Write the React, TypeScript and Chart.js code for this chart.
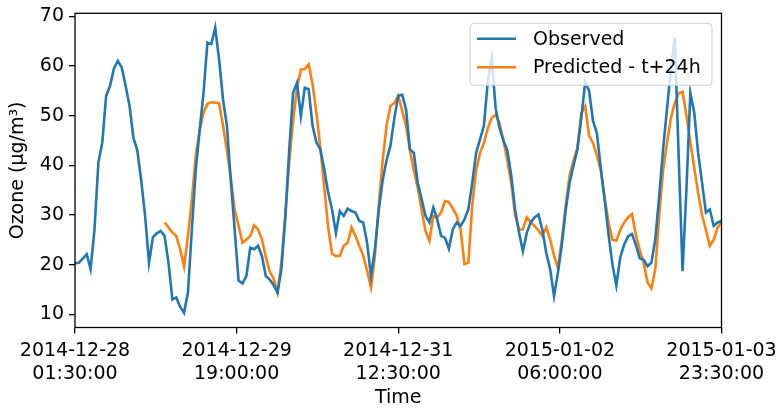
import React, { useEffect, useRef } from "react";
import { Chart, registerables } from "chart.js";

Chart.register(...registerables);

// ---- data ----
const START_UTC = Date.UTC(2014, 11, 28, 1, 30); // first sample: 2014-12-28 01:30
const xTickHours = [0, 41.5, 83, 124.5, 166];
const yTickValues = [10, 20, 30, 40, 50, 60, 70];

const observed = [
  20.3, 20.4, 21.2, 22.1, 19.1, 27, 40.5, 44.6, 54, 56,
  59.5, 61, 59.7, 56, 52, 45.5, 43, 37, 29.8, 20.4,
  25.5, 26.3, 26.8, 25.8, 20.4, 13, 13.4, 11.5, 10.3, 14.4,
  27, 39, 47, 54.6, 64.7, 64.4, 67.7, 61.3, 53.3, 48,
  37, 27, 16.8, 16.2, 17.7, 23.4, 23.1, 23.8, 21.7, 17.7,
  17, 15.9, 14.4, 19.1, 29.5, 43, 54.6, 56.6, 49.9, 55.6,
  55.3, 47.9, 44.6, 43.2, 39.2, 34.5, 31.1, 26.4, 30.8, 29.8,
  31.3, 30.8, 30.5, 28.8, 28.5, 24.4, 17.7, 23.1, 31, 37,
  41, 44, 49.5, 54, 54.2, 51.3, 43.2, 42.5, 36.5, 33.2,
  29.8, 28.5, 31.5, 29.1, 25.8, 25.4, 23.2, 27.1, 28.5, 27.8,
  29.1, 31.1, 36.5, 42.5, 45.2, 48, 57, 61.7, 51.5, 47.5,
  45, 43, 38, 31.1, 26.5, 22.7, 26.4, 28.5, 29.5, 30.1,
  27, 22.4, 19.1, 13.7, 18.4, 24, 31, 36.5, 39.9, 43.2,
  49.5, 56.8, 55, 49, 46.5, 39.5, 33, 26, 20, 15.8,
  21.5, 24, 25.7, 26.2, 24, 21.3, 21, 19.7, 20.4, 25.1,
  33.8, 43.2, 51.3, 59.3, 65.7, 42, 18.7, 35.2, 54.6, 50.6,
  42.5, 36.5, 30.5, 31.1, 27.8, 28.5, 28.8,
];

const predictedStartHour = 23;
const predicted = [
  28.5, 27.5, 26.5, 25.8, 23.1, 19.6, 25.8, 33, 42, 47,
  50.6, 52.4, 52.7, 52.6, 52.5, 48, 43, 37.5, 31, 27.8,
  24.4, 25, 25.8, 27.9, 27.1, 25.1, 21.5, 18.6, 17.2, 14.4,
  20.4, 30, 40.5, 49, 55.5, 59.3, 59.4, 60.3, 56.3, 50.5,
  43.5, 35.5, 27.5, 22.2, 21.7, 21.8, 23.8, 24.4, 27.5, 25.8,
  23.8, 21.8, 18.8, 15.4, 21.7, 32, 41, 48, 52, 52.5,
  54, 51, 48, 43, 39, 35.5, 31, 26.8, 24.8, 29.8,
  29.5, 30.5, 32.8, 32.6, 31.3, 29.9, 27.1, 20.1, 20.4, 32,
  39, 42.5, 44.5, 47.5, 49.5, 50.2, 48.5, 45, 41, 36.5,
  30, 27, 27.1, 29.5, 28.5, 27.8, 26.9, 25.8, 27.5, 25.1,
  21.8, 19.3, 25, 32, 38, 41, 43.5, 50.5, 51.9, 46,
  44.5, 42, 39, 33.5, 28.5, 25, 24.8, 27, 28.5, 29.5,
  30.2, 26, 23, 20.4, 16.4, 15.2, 19.1, 29.8, 39, 44.5,
  49.5, 52.5, 54.5, 54.8, 50, 44.6, 39.5, 34.5, 30, 27,
  23.8, 25, 27.5, 28.5,
];

const seriesLabels = ["Observed", "Predicted - t+24h"];
const seriesColors = ["#1f77b4", "#ff7f0e"];

const FONT = "'DejaVu Sans', sans-serif";

function hourLabel(h: number): string[] {
  const d = new Date(START_UTC + h * 3600000);
  const p = (n: number) => String(n).padStart(2, "0");
  return [
    `${d.getUTCFullYear()}-${p(d.getUTCMonth() + 1)}-${p(d.getUTCDate())}`,
    `${p(d.getUTCHours())}:${p(d.getUTCMinutes())}:00`,
  ];
}

const framePlugin = {
  id: "mplFrame",
  afterDatasetsDraw(chart: any) {
    const { ctx, chartArea } = chart;
    ctx.save();
    ctx.strokeStyle = "#000";
    ctx.lineWidth = 1.3;
    ctx.strokeRect(chartArea.left, chartArea.top, chartArea.right - chartArea.left, chartArea.bottom - chartArea.top);
    ctx.restore();
  },
};

const legendPlugin = {
  id: "mplLegend",
  afterDraw(chart: any) {
    const { ctx, chartArea } = chart;
    const w = 242;
    const h = 62;
    const x = chartArea.right - w - 9.5;
    const y = chartArea.top + 10;
    const r = 4;
    ctx.save();
    ctx.beginPath();
    ctx.moveTo(x + r, y);
    ctx.lineTo(x + w - r, y);
    ctx.arcTo(x + w, y, x + w, y + r, r);
    ctx.lineTo(x + w, y + h - r);
    ctx.arcTo(x + w, y + h, x + w - r, y + h, r);
    ctx.lineTo(x + r, y + h);
    ctx.arcTo(x, y + h, x, y + h - r, r);
    ctx.lineTo(x, y + r);
    ctx.arcTo(x, y, x + r, y, r);
    ctx.closePath();
    ctx.fillStyle = "rgba(255,255,255,0.8)";
    ctx.fill();
    ctx.strokeStyle = "#cccccc";
    ctx.lineWidth = 1;
    ctx.stroke();

    ctx.font = `19px ${FONT}`;
    ctx.textBaseline = "middle";
    ctx.textAlign = "left";
    chart.data.datasets.forEach((ds: any, i: number) => {
      const cy = y + 15.5 + i * 28.5;
      ctx.beginPath();
      ctx.strokeStyle = ds.borderColor;
      ctx.lineWidth = 2.6;
      ctx.moveTo(x + 7, cy);
      ctx.lineTo(x + 46, cy);
      ctx.stroke();
      ctx.fillStyle = "#000";
      ctx.fillText(ds.label, x + 63, cy + 1);
    });
    ctx.restore();
  },
};

export default function App() {
  const canvasRef = useRef<HTMLCanvasElement | null>(null);

  useEffect(() => {
    if (!canvasRef.current) return;
    const obsData = observed.map((v, i) => ({ x: i, y: v }));
    const predData = predicted.map((v, i) => ({ x: i + predictedStartHour, y: v }));

    const chart = new Chart(canvasRef.current, {
      type: "line",
      data: {
        datasets: [
          {
            label: seriesLabels[0],
            data: obsData,
            borderColor: seriesColors[0],
            backgroundColor: seriesColors[0],
            borderWidth: 2.6,
            pointRadius: 0,
            tension: 0,
          },
          {
            label: seriesLabels[1],
            data: predData,
            borderColor: seriesColors[1],
            backgroundColor: seriesColors[1],
            borderWidth: 2.6,
            pointRadius: 0,
            tension: 0,
          },
        ],
      },
      options: {
        animation: false,
        responsive: false,
        devicePixelRatio: 1,
        layout: { padding: { left: 6.5, right: 57.5, top: 13.3, bottom: 0 } },
        plugins: {
          legend: { display: false },
          tooltip: { enabled: false },
        },
        scales: {
          x: {
            type: "linear",
            min: 0,
            max: 166,
            afterBuildTicks: (scale: any) => {
              scale.ticks = xTickHours.map((v) => ({ value: v }));
            },
            afterFit: (scale: any) => {
              scale.height = 80.5;
              scale.paddingLeft = 0;
              scale.paddingRight = 0;
            },
            ticks: {
              autoSkip: false,
              maxRotation: 0,
              minRotation: 0,
              padding: 6,
              color: "#000",
              font: { family: FONT, size: 19, lineHeight: 1.2 },
              callback: (v: any) => hourLabel(Number(v)),
            },
            grid: {
              display: true,
              drawOnChartArea: false,
              drawTicks: true,
              tickLength: 6,
              color: "#000",
              lineWidth: 1.3,
            },
            border: { display: false },
            title: {
              display: true,
              text: "Time",
              color: "#000",
              font: { family: FONT, size: 19, lineHeight: 1.2 },
              padding: { top: 0, bottom: -1.5 },
            },
          },
          y: {
            type: "linear",
            min: 7.35,
            max: 70.6,
            afterBuildTicks: (scale: any) => {
              scale.ticks = yTickValues.map((v) => ({ value: v }));
            },
            afterFit: (scale: any) => {
              scale.width = 68.5;
              scale.paddingTop = 0;
              scale.paddingBottom = 0;
            },
            ticks: {
              padding: 5,
              color: "#000",
              font: { family: FONT, size: 19 },
            },
            grid: {
              display: true,
              drawOnChartArea: false,
              drawTicks: true,
              tickLength: 6,
              color: "#000",
              lineWidth: 1.3,
            },
            border: { display: false },
            title: {
              display: true,
              text: "Ozone (µg/m³)",
              color: "#000",
              font: { family: FONT, size: 19, lineHeight: 1.2 },
              padding: { top: 0, bottom: 0 },
            },
          },
        },
      },
      plugins: [framePlugin, legendPlugin],
    } as any);

    return () => chart.destroy();
  }, []);

  return (
    <div style={{ position: "absolute", left: 0, top: 0, width: 779, height: 408, background: "#fff" }}>
      <canvas ref={canvasRef} width={779} height={408} />
    </div>
  );
}
